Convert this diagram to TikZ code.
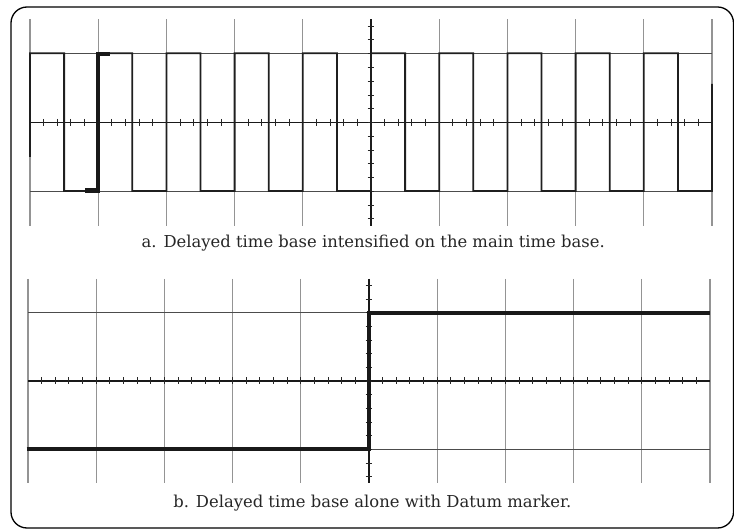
\documentclass[tikz,border=0pt]{standalone}
\usepackage{fontspec}
\setmainfont{DejaVu Serif}
\begin{document}
\begin{tikzpicture}[x=1pt,y=-1pt,
  vgrid/.style={line width=1.3pt, draw=black!42},
  hgrid/.style={line width=0.8pt, draw=black!70},
  axisline/.style={line width=1.1pt, draw=black!90},
  tickmark/.style={line width=0.9pt, draw=black!85},
  wave/.style={line width=1.8pt, draw=black!88, line join=miter},
  intens/.style={line width=4.3pt, draw=black!90},
  captiontext/.style={font=\fontsize{16.4}{18}\selectfont, text=black!85, inner sep=0pt}]
\useasboundingbox (0,0) rectangle (734,529);
\draw[line width=1.3pt, rounded corners=16pt] (11,7) rectangle (733.5,528);
% ---------- top graph ----------
\foreach \i in {0,...,10} { \draw[vgrid] ({30+68.2*\i},19.3) -- ({30+68.2*\i},225.7); }
\foreach \y in {53.3,191} { \draw[hgrid] (30,\y) -- (712,\y); }
\draw[axisline] (30,122.5) -- (712,122.5);
\draw[axisline] (371,19.3) -- (371,225.7);
\foreach \k in {1,...,49} { \draw[tickmark] ({30+13.64*\k},119) -- ({30+13.64*\k},126); }
\foreach \k in {-7,...,7} { \draw[tickmark] (367.7,{122.5+13.77*\k}) -- (374.3,{122.5+13.77*\k}); }
\draw[wave] (30,157) \foreach \k in {0,2,...,18} { -- ({30+34.1*\k},53.3) -- ({30+34.1*(\k+1)},53.3) -- ({30+34.1*(\k+1)},191) -- ({30+34.1*(\k+2)},191) } -- (712,84);
\draw[intens] (85,190.5) -- (98.3,190.5) -- (98.3,54) -- (110,54);
\node[captiontext] (capa) at (373.2,243) {a. Delayed time base intensified on the main time base.};
% ---------- bottom graph ----------
\foreach \i in {0,...,10} { \draw[vgrid] ({28+68.2*\i},279) -- ({28+68.2*\i},483.3); }
\foreach \y in {312.7,449.3} { \draw[hgrid] (28,\y) -- (710,\y); }
\draw[axisline] (28,381) -- (710,381);
\draw[axisline] (369,279) -- (369,483.3);
\foreach \k in {1,...,49} { \draw[tickmark] ({28+13.64*\k},377.5) -- ({28+13.64*\k},384.5); }
\foreach \k in {-7,...,7} { \draw[tickmark] (365.7,{381+13.66*\k}) -- (372.3,{381+13.66*\k}); }
\draw[line width=3.8pt, draw=black!90] (26.7,449.3) -- (369,449.3) -- (369,312.7) -- (710,312.7);
\node[captiontext] (capb) at (372.3,503) {b. Delayed time base alone with Datum marker.};
\end{tikzpicture}
\end{document}
